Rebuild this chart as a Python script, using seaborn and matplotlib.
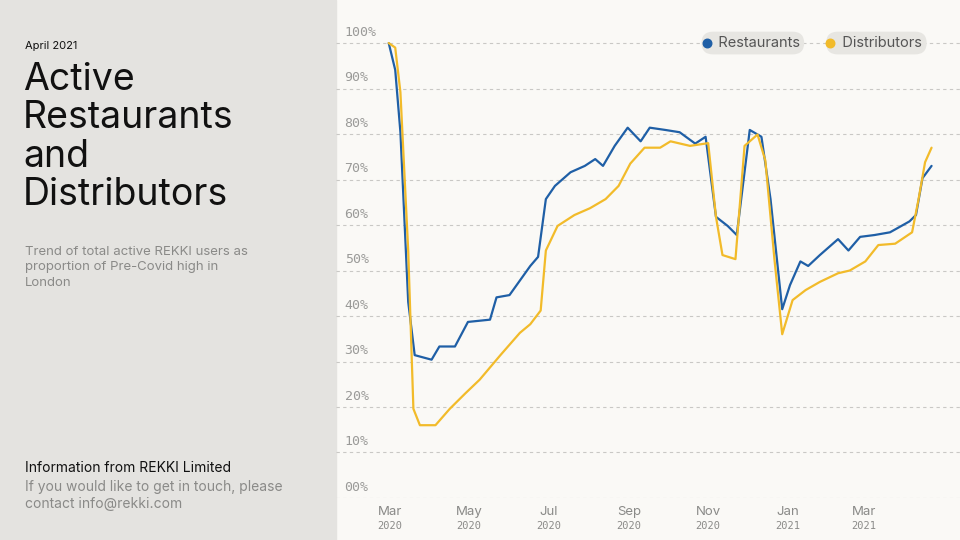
import pandas as pd
import matplotlib
matplotlib.use("Agg")
import matplotlib.pyplot as plt
import matplotlib.transforms as mtrans
import seaborn as sns

# days since 2020-03-01 and share of pre-Covid high (%)
rest_days = [-1, 4, 8, 14, 19, 32, 38, 50, 60, 77, 82, 92, 108, 114, 120, 127, 139, 150,
             158, 164, 173, 183, 193, 200, 212, 223, 235, 243, 251, 260, 267, 277, 286,
             293, 302, 308, 316, 322, 331, 345, 353, 362, 373, 385, 400, 405, 410, 417]
rest_vals = [100, 94.1, 80.4, 43.1, 31.4, 30.4, 33.3, 33.3, 38.7, 39.2, 44.1, 44.6, 51, 53,
             65.7, 68.6, 71.6, 73, 74.5, 73, 77.4, 81.4, 78.4, 81.4, 80.9, 80.4, 77.9, 79.4,
             61.8, 59.8, 57.8, 80.9, 79.4, 65.7, 41.5, 46.8, 52, 51, 53.4, 56.9, 54.4, 57.4,
             57.8, 58.4, 60.8, 62.2, 70.3, 73]
dist_days = [-1, 4, 8, 14, 18, 23, 35, 46, 58, 69, 85, 100, 108, 116, 120, 129, 142, 154,
             166, 176, 185, 196, 208, 216, 231, 245, 251, 256, 266, 273, 283, 289, 296,
             302, 310, 320, 331, 345, 354, 366, 376, 389, 402, 407, 412, 417]
dist_vals = [100, 99, 89.2, 54.4, 19.6, 16, 16, 19.6, 23, 26, 31.4, 36.3, 38.2, 41.2, 54.4,
             59.8, 62.2, 63.7, 65.7, 68.6, 73.5, 77, 77, 78.4, 77.4, 78, 61.8, 53.4, 52.5,
             77.4, 79.9, 74.2, 52.5, 36, 43.5, 45.7, 47.5, 49.4, 50, 52, 55.6, 55.9, 58.4,
             65.7, 73.8, 77]
tick_days = [0, 61, 122, 184, 245, 306, 365]
tick_months = ["Mar", "May", "Jul", "Sep", "Nov", "Jan", "Mar"]
tick_years = ["2020", "2020", "2020", "2020", "2020", "2021", "2021"]
y_ticks = [0, 10, 20, 30, 40, 50, 60, 70, 80, 90, 100]

BLUE = "#1f5fa6"
YELLOW = "#f2bb2a"
GREY = "#8a8a88"
MONO = "DejaVu Sans Mono"
SANS = "Inter"

df = pd.concat([
    pd.DataFrame({"day": rest_days, "value": rest_vals, "series": "Restaurants"}),
    pd.DataFrame({"day": dist_days, "value": dist_vals, "series": "Distributors"}),
])

sns.set_theme(style="white")
fig = plt.figure(figsize=(9.6, 5.4), dpi=100)
fig.patch.set_facecolor("#faf9f6")
fig.add_artist(plt.Rectangle((0, 0), 0.35, 1, transform=fig.transFigure,
                             color="#e4e3e0", zorder=0))

ax = fig.add_axes([0.35, 0.0778, 0.65, 0.885])
ax.set_facecolor("none")
sns.lineplot(data=df, x="day", y="value", hue="series", palette=[BLUE, YELLOW],
             hue_order=["Restaurants", "Distributors"], linewidth=1.6,
             legend=False, ax=ax)
for line, z in zip(ax.lines, [2, 3]):
    line.set_zorder(z)
    line.set_solid_joinstyle("round")

ax.set_xlim(-41.6, 438.9)
ax.set_ylim(0, 105.05)
for s in ax.spines.values():
    s.set_visible(False)
ax.set_xlabel("")
ax.set_ylabel("")
ax.set_yticks([])
for v in y_ticks:
    ax.axhline(v, color="#c9c8c5", lw=0.8, ls=(0, (3, 3)), zorder=1)
    ax.text(-35, v + 0.9, f"{v:02d}%", fontsize=9.5, color="#9a9a98", family=MONO,
            va="bottom", ha="left")

ax.set_xticks(tick_days)
ax.set_xticklabels(tick_months, fontsize=9.5, color=GREY, family=SANS)
ax.tick_params(axis="x", length=0, pad=6)
trans = mtrans.blended_transform_factory(ax.transData, ax.transAxes)
for d, y in zip(tick_days, tick_years):
    ax.text(d, -0.048, y, transform=trans, fontsize=7.5, color=GREY, family=MONO,
            ha="center", va="top")

# legend pills
for label, color, xc, xd in [("Restaurants", BLUE, 0.668, 0.594),
                             ("Distributors", YELLOW, 0.866, 0.792)]:
    ax.text(xc, 0.952, "   " + label, transform=ax.transAxes, fontsize=10.5,
            color="#555555", family=SANS, ha="center", va="center",
            bbox=dict(boxstyle="round,pad=0.3,rounding_size=0.8", fc="#e7e6e2", ec="none"))
    ax.scatter([xd], [0.952], transform=ax.transAxes, s=38, color=color, zorder=5)

# left panel text
fig.text(0.026, 0.91, "April 2021", fontsize=8, color="#111111", family=SANS)
fig.text(0.024, 0.885, "Active\nRestaurants\nand\nDistributors", fontsize=27,
         color="#111111", family=SANS, va="top", linespacing=1.08)
fig.text(0.026, 0.545, "Trend of total active REKKI users as\nproportion of Pre-Covid high in\nLondon",
         fontsize=9.5, color=GREY, family=SANS, va="top", linespacing=1.4)
fig.text(0.026, 0.125, "Information from REKKI Limited", fontsize=10, color="#111111", family=SANS)
fig.text(0.026, 0.06, "If you would like to get in touch, please\ncontact info@rekki.com",
         fontsize=10, color=GREY, family=SANS, linespacing=1.2)

fig.savefig("out.png", dpi=100, facecolor=fig.get_facecolor())
